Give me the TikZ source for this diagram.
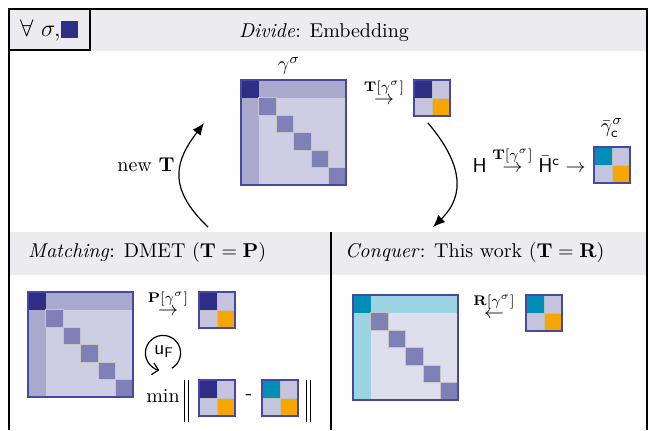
\documentclass[tikz,border=0pt]{standalone}
\usepackage{xcolor}
\usepackage{amsmath,amssymb}
\usepackage{tikz}
\usetikzlibrary{arrows.meta, positioning}

\definecolor{navyblk}{RGB}{46,46,134}
\definecolor{rowcol}{RGB}{169,169,206}
\definecolor{diagblk}{RGB}{128,128,184}
\definecolor{restblk}{RGB}{205,205,228}
\definecolor{restlight}{RGB}{222,222,237}
\definecolor{lightcyan}{RGB}{155,212,227}
\definecolor{tealblk}{RGB}{0,142,182}
\definecolor{orangeblk}{RGB}{245,166,0}
\definecolor{offblk}{RGB}{196,196,222}
\definecolor{matborder}{RGB}{72,72,160}
\definecolor{bandgray}{RGB}{235,235,240}

% big 6x6 block matrix: corner x, corner y, corner colour, row/col colour, rest colour
\newcommand{\bigmat}[5]{%
  \begin{scope}[shift={(#1,#2)}]
    \fill[#5] (0,0) rectangle (105,105);
    \fill[#4] (0,0) rectangle (105,17.5);
    \fill[#4] (0,0) rectangle (17.5,105);
    \fill[#3] (0,0) rectangle (17.5,17.5);
    \foreach \k in {1,...,5}
      \filldraw[fill=diagblk, draw=gray!45, line width=0.3pt] (17.5*\k,17.5*\k) rectangle ++(17.5,17.5);
    \draw[matborder, line width=0.6pt] (0,0) rectangle (105,105);
  \end{scope}}

% small 2x2 block matrix: corner x, corner y, corner colour
\newcommand{\smallmat}[3]{%
  \begin{scope}[shift={(#1,#2)}]
    \fill[offblk] (0,0) rectangle (36,36);
    \fill[#3] (0,0) rectangle (18,18);
    \fill[orangeblk] (18,18) rectangle (36,36);
    \draw[gray!50, line width=0.3pt] (18,0) -- (18,36) (0,18) -- (36,18);
    \draw[matborder, line width=0.6pt] (0,0) rectangle (36,36);
  \end{scope}}

\begin{document}
\begin{tikzpicture}[x=0.5pt, y=-0.5pt,
  frame/.style={line width=0.9pt},
  loop arrow/.style={line width=0.6pt, -{Latex[length=6pt,width=5pt]}},
  norm bar/.style={line width=0.5pt}]
\useasboundingbox (0,0) rectangle (649,430);

% Bands
\fill[bandgray] (9,9) rectangle (647,51);
\fill[bandgray] (9,232) rectangle (647,275);

% Frame
\draw[frame] (9,430) -- (9,9) -- (647,9) -- (647,430);
\draw[frame] (331,232) -- (331,430);
\filldraw[fill=bandgray, draw=black, line width=1.2pt] (9,9) rectangle (90,50);
\node[anchor=west] (forallSig) at (13,30) {\large $\forall\ \sigma,$\textcolor{navyblk}{\rule[-1pt]{8.5pt}{8.5pt}}};

% Divide
\node (divTitle) at (324,33) {\textit{Divide}: Embedding};
\bigmat{241}{80}{navyblk}{rowcol}{restblk}
\node (gammaTop) at (289,66) {$\gamma^{\sigma}$};
\node (embArrow) at (384,92) {$\stackrel{\mathbf{T}[\gamma^{\sigma}]}{\rightarrow}$};
\smallmat{414}{80}{navyblk}
\node[anchor=east, inner sep=1pt] (hChain) at (588,160) {$\mathsf{H} \stackrel{\mathbf{T}[\gamma^{\sigma}]}{\rightarrow} \bar{\mathsf{H}}^{\mathsf{c}} \rightarrow$};
\node[inner sep=1pt] (gammaBar) at (612,128) {$\bar{\gamma}^{\sigma}_{\mathsf{c}}$};
\smallmat{594}{147}{tealblk}

% Loop
\coordinate (embOut) at (428,123);
\coordinate (conqIn) at (433,227);
\coordinate (matchOut) at (208,227);
\coordinate (embIn) at (204,123);
\draw[loop arrow] (embOut) .. controls (462,163) and (466,195) .. (conqIn);
\draw[loop arrow] (matchOut) .. controls (166,187) and (176,160) .. (embIn);
\node (newT) at (146,165) {new $\mathbf{T}$};

% Matching
\node[anchor=west] (matchTitle) at (21,252) {\textit{Matching}: DMET ($\mathbf{T} = \mathbf{P}$)};
\bigmat{28}{292}{navyblk}{rowcol}{restblk}
\node (matchArrow) at (168,303) {$\stackrel{\mathbf{P}[\gamma^{\sigma}]}{\rightarrow}$};
\smallmat{199}{292}{navyblk}
\draw[line width=0.6pt, -{Straight Barb[length=3pt]}] (163,353) ++(-60:8.8pt) arc[start angle=-60, end angle=258, radius=8.8pt];
\node (uF) at (164,352) {$\mathsf{u}_{\mathsf{F}}$};
\node (minTxt) at (163,396) {min};
\draw[norm bar] (184,380) -- (184,422) (188,380) -- (188,422);
\draw[norm bar] (306,380) -- (306,422) (310,380) -- (310,422);
\smallmat{199}{380}{navyblk}
\node (minusTxt) at (249,397) {-};
\smallmat{262}{380}{tealblk}

% Conquer
\node[anchor=west] (conqTitle) at (338,252) {\textit{Conquer}: This work ($\mathbf{T} = \mathbf{R}$)};
\bigmat{353}{295}{tealblk}{lightcyan}{restlight}
\node (conqArrow) at (494,306) {$\stackrel{\mathbf{R}[\gamma^{\sigma}]}{\leftarrow}$};
\smallmat{526}{295}{tealblk}
\end{tikzpicture}
\end{document}
